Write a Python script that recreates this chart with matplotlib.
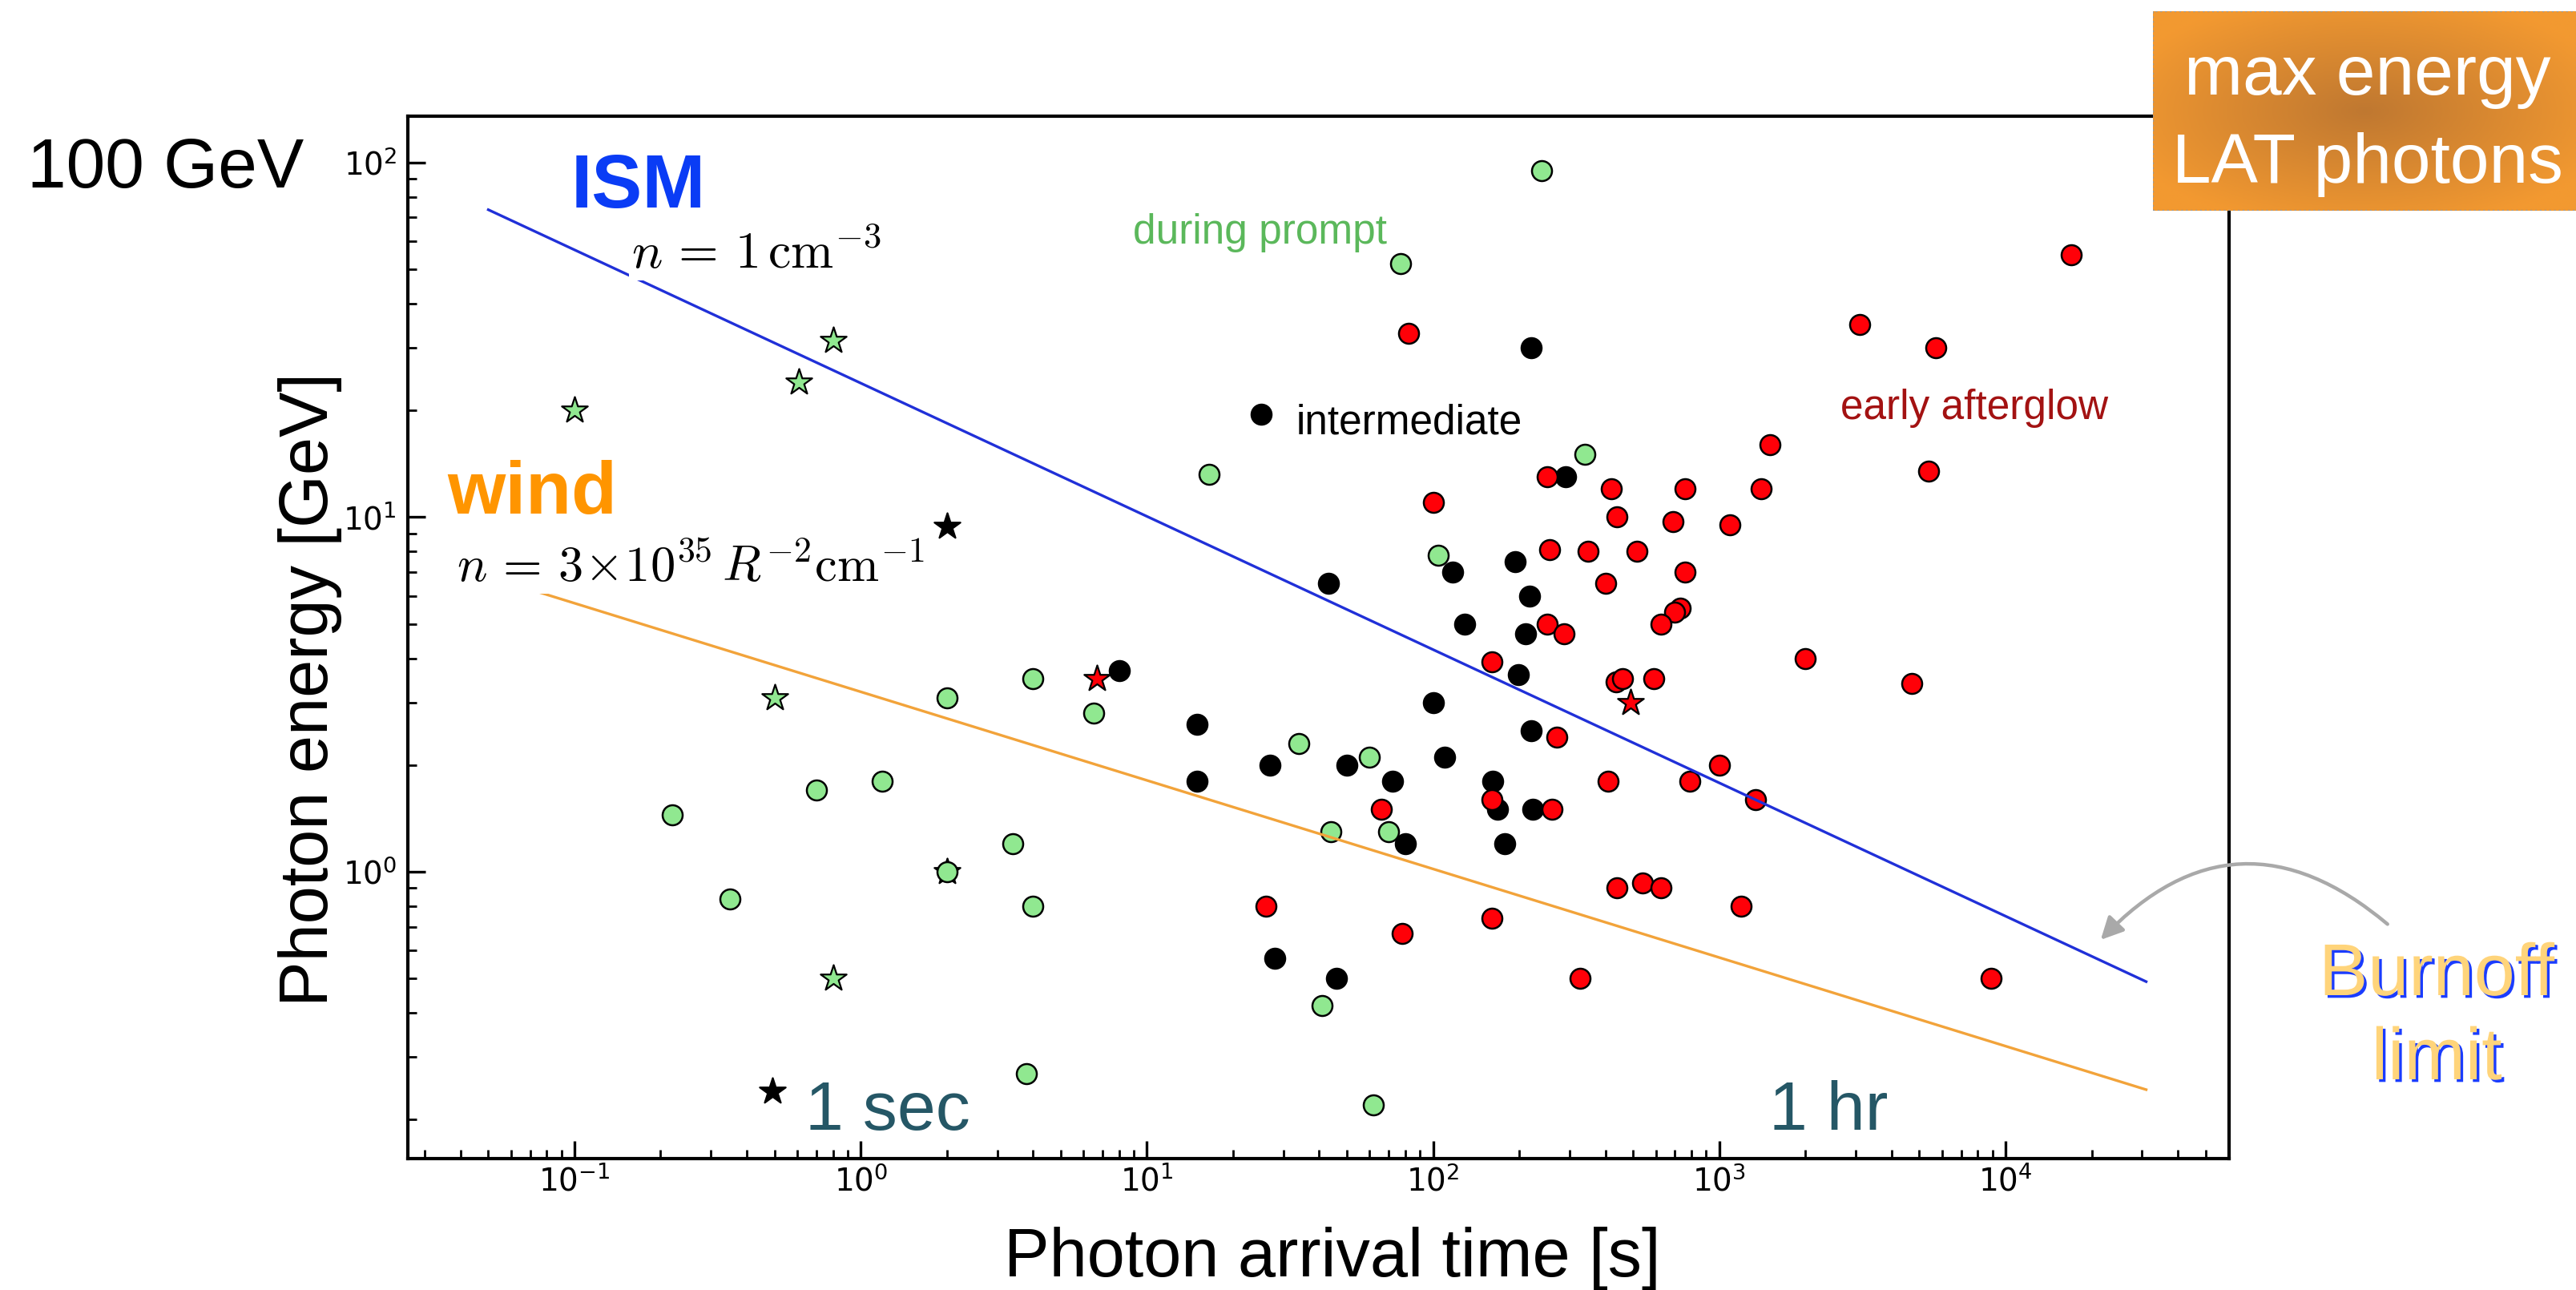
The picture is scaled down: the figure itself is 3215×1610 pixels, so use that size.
import numpy as np
import matplotlib
matplotlib.use('Agg')
import matplotlib.pyplot as plt
import matplotlib.patheffects as pe
from matplotlib.patches import FancyArrowPatch, Rectangle

plt.rcParams['font.family'] = ['Liberation Sans', 'DejaVu Sans']
plt.rcParams['mathtext.fontset'] = 'cm'

# during prompt (green)
prompt_t = [240, 77, 340, 16.5, 104, 2.0, 4.0, 6.5, 1.19, 0.70, 0.22, 3.4, 2.0, 0.35,
            4.0, 3.8, 34, 60, 44, 70, 41, 62]
prompt_E = [95, 52, 15, 13.2, 7.8, 3.1, 3.5, 2.8, 1.8, 1.7, 1.45, 1.2, 1.0, 0.84,
            0.80, 0.27, 2.3, 2.1, 1.3, 1.3, 0.42, 0.22]
prompt_star_t = [0.1, 0.61, 0.8, 0.5, 2.0, 0.8]
prompt_star_E = [20, 24, 31.5, 3.1, 1.0, 0.5]

# intermediate (black)
inter_t = [8, 15, 27, 15, 28, 25, 220, 290, 117, 193, 43, 218, 129, 210, 198, 100,
           220, 110, 50, 72, 162, 168, 223, 80, 178, 46]
inter_E = [3.7, 2.6, 2.0, 1.8, 0.57, 19.5, 30, 13, 7.0, 7.5, 6.5, 6.0, 5.0, 4.7, 3.6, 3.0,
           2.5, 2.1, 2.0, 1.8, 1.8, 1.5, 1.5, 1.2, 1.2, 0.5]
inter_star_t = [2.0, 0.49]
inter_star_E = [9.4, 0.24]

# early afterglow (red)
after_t = [17000, 82, 3100, 5700, 1500, 5400, 250, 420, 760, 1400, 100, 440, 690, 1090,
           256, 347, 515, 760, 400, 730, 700, 625, 250, 286, 160, 2000, 436, 458, 590,
           4700, 270, 66, 160, 260, 410, 790, 1000, 1340, 440, 540, 625, 1190, 160, 78,
           326, 8900, 26]
after_E = [55, 33, 35, 30, 16, 13.5, 13, 12, 12, 12, 11, 10, 9.7, 9.5,
           8.1, 8.0, 8.0, 7.0, 6.5, 5.55, 5.4, 5.0, 5.0, 4.7, 3.9, 4.0, 3.43, 3.51, 3.5,
           3.4, 2.4, 1.5, 1.6, 1.5, 1.8, 1.8, 2.0, 1.6, 0.9, 0.93, 0.9, 0.8, 0.74, 0.67,
           0.5, 0.5, 0.80]
after_star_t = [6.7, 490]
after_star_E = [3.5, 3.0]

# burnoff limits (end points of the power laws)
ism_t = [0.05, 3.1e4]
ism_E = [73.6, 0.49]
wind_t = [0.05, 3.1e4]
wind_E = [6.8, 0.243]

fig = plt.figure(figsize=(16.08, 8.05), dpi=200)
ax = fig.add_axes([0.15827, 0.10186, 0.70678, 0.80826])
ax.set_xscale('log')
ax.set_yscale('log')
ax.set_xlim(0.02617, 6.04e4)
ax.set_ylim(0.1553, 135.3)

ax.scatter(prompt_star_t, prompt_star_E, marker='*', s=150, c='#90E890', edgecolors='k', linewidths=0.8, zorder=2)
ax.scatter(prompt_t, prompt_E, marker='o', s=81, c='#90E890', edgecolors='k', linewidths=0.9, zorder=2)
ax.scatter(inter_t, inter_E, marker='o', s=81, c='k', edgecolors='k', linewidths=0.9, zorder=2)
ax.scatter(inter_star_t, inter_star_E, marker='*', s=150, c='k', edgecolors='k', linewidths=0.8, zorder=2)
ax.scatter(after_t, after_E, marker='o', s=81, c='#FF0008', edgecolors='k', linewidths=0.9, zorder=2)
ax.scatter(after_star_t, after_star_E, marker='*', s=150, c='#FF0008', edgecolors='k', linewidths=0.8, zorder=2)

ax.plot(ism_t, ism_E, color='#2030D8', lw=1.2, zorder=3)
ax.plot(wind_t, wind_E, color='#F2A33A', lw=1.2, zorder=3)

ax.text(0.097, 74.5, 'ISM', color='#0A3CF5', fontsize=34, fontweight='bold')
ax.text(0.036, 10.23, 'wind', color='#FF9500', fontsize=33.5, fontweight='bold')
ax.text(0.158, 50.3, r'$n\,=\,1\,\mathrm{cm}^{-3}$', fontsize=23, zorder=4,
        bbox=dict(facecolor='white', edgecolor='none', pad=1))
ax.text(0.0388, 6.58, r'$n\,=\,3\!\times\!10^{35}\,R^{-2}\mathrm{cm}^{-1}$', fontsize=22.5, zorder=4,
        bbox=dict(facecolor='white', edgecolor='none', pad=1))
ax.text(8.93, 59.1, 'during prompt', color='#5BB85B', fontsize=18.5)
ax.text(33.3, 17.2, 'intermediate', color='k', fontsize=18.5)
ax.text(2650, 18.9, 'early afterglow', color='#A31212', fontsize=18.5)
ax.text(0.64, 0.1873, '1 sec', color='#255766', fontsize=31)
ax.text(1493, 0.1873, '1 hr', color='#255766', fontsize=31)

for s in ax.spines.values():
    s.set_linewidth(1.5)
ax.tick_params(which='both', direction='in', top=False, right=False, labelsize=14,
               labelfontfamily='DejaVu Sans')
ax.tick_params(which='major', length=8, width=1.2)
ax.tick_params(which='minor', length=4, width=1.0)
ax.tick_params(axis='x', pad=3)
ax.tick_params(axis='y', pad=5)

fig.text(1663 / 3216, 1 - 1593 / 1610, 'Photon arrival time [s]', fontsize=30.5,
         ha='center', va='baseline')
fig.text(409 / 3216, 1 - 861 / 1610, 'Photon energy [GeV]', fontsize=30.5, rotation=90,
         rotation_mode='anchor', ha='center', va='baseline')
fig.text(34 / 3216, 1 - 234 / 1610, '100 GeV', fontsize=31.5, ha='left', va='baseline')

# orange title box with radial gradient
bx = fig.add_axes([2687 / 3216, 1 - 263 / 1610, 529 / 3216, 249 / 1610], zorder=10)
gx, gy = np.meshgrid(np.linspace(-1, 1, 200), np.linspace(-1, 1, 100))
r = np.clip(np.sqrt(gx ** 2 + gy ** 2) / 1.2, 0, 1)
c0 = np.array([0.75, 0.47, 0.19])
c1 = np.array([0.95, 0.60, 0.19])
img = c0[None, None, :] * (1 - r[..., None]) + c1[None, None, :] * r[..., None]
bx.imshow(img, extent=[0, 1, 0, 1], aspect='auto')
bx.add_patch(Rectangle((0, 0), 1, 1, fill=False, edgecolor='#999999', lw=0.8, ls=':',
                       transform=bx.transAxes))
bx.set_xlim(0, 1)
bx.set_ylim(0, 1)
bx.axis('off')
bx.text(0.507, 0.582, 'max energy', color='white', fontsize=31.5, ha='center', va='baseline')
bx.text(0.507, 0.141, 'LAT photons', color='white', fontsize=31.5, ha='center', va='baseline')

# burnoff annotation
arrow = FancyArrowPatch((2984 / 3216, 1 - 1157 / 1610), (2618 / 3216, 1 - 1177 / 1610),
                        transform=fig.transFigure, connectionstyle='arc3,rad=0.48',
                        arrowstyle='-|>', mutation_scale=21, color='#A9A9A9', lw=1.6)
fig.patches.append(arrow)
shadow = [pe.SimplePatchShadow(offset=(1.2, -1.2), shadow_rgbFace='#1A3CFF', alpha=1.0), pe.Normal()]
fig.text(3041 / 3216, 1 - 1242 / 1610, 'Burnoff', color='#FFD47A', fontsize=33,
         ha='center', va='baseline', path_effects=shadow)
fig.text(3041 / 3216, 1 - 1347 / 1610, 'limit', color='#FFD47A', fontsize=33,
         ha='center', va='baseline', path_effects=shadow)

fig.savefig('out.png', dpi=200)
